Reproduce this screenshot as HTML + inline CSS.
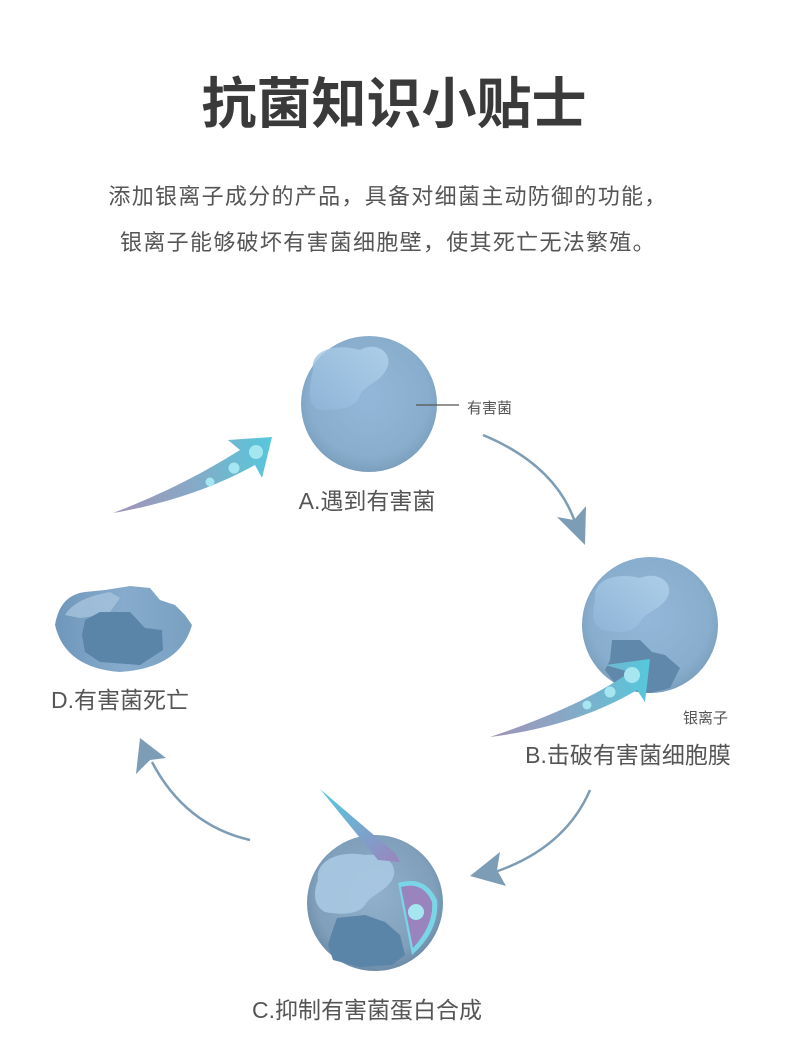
<!DOCTYPE html>
<html><head><meta charset="utf-8"><style>
body{margin:0;background:#fff;width:790px;height:1045px;overflow:hidden;font-family:"Liberation Sans","Noto Sans CJK SC",sans-serif}
</style></head><body>
<svg width="790" height="1045" xmlns="http://www.w3.org/2000/svg" style="font-family:'Liberation Sans','Noto Sans CJK SC',sans-serif">
<defs>
<radialGradient id="ball" cx="0.5" cy="0.45" r="0.55">
<stop offset="0" stop-color="#93b7d8"/><stop offset="0.8" stop-color="#89aecd"/><stop offset="1" stop-color="#7b9fbd"/></radialGradient>
<radialGradient id="ballC" cx="0.5" cy="0.45" r="0.55">
<stop offset="0" stop-color="#90b0cc"/><stop offset="0.8" stop-color="#7f9fbb"/><stop offset="1" stop-color="#6c8ca8"/></radialGradient>
<linearGradient id="hl" x1="0" y1="1" x2="1" y2="0"><stop offset="0" stop-color="#8fb5d8"/><stop offset="1" stop-color="#b4d5ee"/></linearGradient>
<linearGradient id="ar1" x1="0" y1="0" x2="1" y2="0"><stop offset="0" stop-color="#a293b8"/><stop offset="0.5" stop-color="#86a9c6"/><stop offset="1" stop-color="#55c8dc"/></linearGradient>
<linearGradient id="ar2" x1="0" y1="0" x2="1" y2="1"><stop offset="0" stop-color="#52cde0"/><stop offset="1" stop-color="#9a84bd"/></linearGradient>
<linearGradient id="bowl" x1="0" y1="0" x2="1" y2="0"><stop offset="0" stop-color="#6f97bb"/><stop offset="0.5" stop-color="#86abcc"/><stop offset="1" stop-color="#7aa0c1"/></linearGradient>
</defs>

<text x="394" y="123" text-anchor="middle" font-size="55" font-weight="bold" fill="#3a3a3a">抗菌知识小贴士</text>
<text x="388" y="204" text-anchor="middle" font-size="22" letter-spacing="1.3" fill="#555">添加银离子成分的产品，具备对细菌主动防御的功能，</text>
<text x="388" y="250" text-anchor="middle" font-size="22" letter-spacing="1.3" fill="#555">银离子能够破坏有害菌细胞壁，使其死亡无法繁殖。</text>

<!-- A -->
<circle cx="369" cy="404" r="68" fill="url(#ball)"/>
<path d="M313,370 C310,350 335,343 360,350 C378,340 395,355 386,370 C380,382 365,385 360,395 C355,410 335,410 320,410 C305,405 310,385 313,370Z" fill="url(#hl)" opacity="0.8"/>
<line x1="416" y1="405" x2="459" y2="405" stroke="#555" stroke-width="1.2"/>
<text x="467" y="413" font-size="15" fill="#555">有害菌</text>
<text x="367" y="509" text-anchor="middle" font-size="23" fill="#555">A.遇到有害菌</text>

<!-- top-left ion arrow -->
<path d="M113,513 C160,495 200,475 240,450 L228,440 L272,437 L262,478 L255,465 C210,490 160,505 113,513Z" fill="url(#ar1)"/>
<circle cx="256" cy="452" r="7" fill="#a5e6f0"/>
<circle cx="234" cy="468" r="5.5" fill="#a5e6f0"/>
<circle cx="210" cy="482" r="4.5" fill="#a5e6f0"/>

<!-- connectors -->
<g stroke="#7d9cb5" stroke-width="2.5" fill="none">
<path d="M483,435 Q555,465 575,522"/>
<path d="M590,790 Q565,848 495,872"/>
<path d="M250,840 Q185,825 152,762"/>
</g>
<g fill="#7d9cb5">
<path d="M585,545 L557,517 L574,520 L586,506Z"/>
<path d="M470,876 L500,852 L497,870 L506,886Z"/>
<path d="M140,738 L166,758 L150,760 L136,774Z"/>
</g>

<!-- B -->
<circle cx="650" cy="625" r="68" fill="url(#ball)"/>
<path d="M595,600 C592,580 615,572 640,578 C660,570 675,585 667,598 C660,610 645,612 640,622 C632,635 615,632 603,630 C590,625 593,610 595,600Z" fill="url(#hl)" opacity="0.8"/>
<path d="M612,640 L640,640 L652,652 L665,655 L680,668 L670,688 L650,693 L620,690 L605,670 L610,660Z" fill="#5f88aa"/>
<path d="M490,737 C540,720 590,700 630,672 L605,665 L650,659 L645,702 L637,690 C595,715 545,730 490,737Z" fill="url(#ar1)"/>
<circle cx="632" cy="675" r="8" fill="#a5e6f0"/>
<circle cx="610" cy="692" r="5.5" fill="#a5e6f0"/>
<circle cx="587" cy="705" r="4.5" fill="#a5e6f0"/>
<text x="683" y="723" font-size="15" fill="#555">银离子</text>
<text x="628" y="763" text-anchor="middle" font-size="23" fill="#555">B.击破有害菌细胞膜</text>

<!-- C -->
<circle cx="375" cy="903" r="68" fill="url(#ballC)"/>
<path d="M318,880 C315,860 340,850 365,855 C385,852 400,865 392,880 C385,892 370,895 365,905 C358,915 340,915 325,912 C312,905 314,890 318,880Z" fill="#a9c8e2" opacity="0.9"/>
<path d="M337,918 L365,915 L385,922 L400,935 L405,955 L392,965 L360,967 L333,960 L328,945 L332,932Z" fill="#5a84a8"/>
<path d="M398,883 Q425,875 437,900 Q440,930 412,955 Z" fill="#7ad5e6"/>
<path d="M401,887 Q423,881 432,902 Q434,925 413,948 Z" fill="#9a84bd"/>
<circle cx="416" cy="912" r="8" fill="#a5e6f0"/>
<path d="M320,789 L368,830 L395,853 L400,862 L378,860 Z" fill="url(#ar2)"/>
<text x="367" y="1018" text-anchor="middle" font-size="23" fill="#555">C.抑制有害菌蛋白合成</text>

<!-- D -->
<path d="M55,625 Q60,595 85,592 L105,590 L130,586 L150,588 L160,600 L175,605 L185,615 L192,625 Q180,668 120,672 Q65,668 55,625Z" fill="url(#bowl)"/>
<path d="M65,615 Q75,598 110,592 L120,598 L110,612 L95,616 L80,618Z" fill="#a6c3dc" opacity="0.8"/>
<path d="M85,620 L100,612 L130,612 L145,628 L162,630 L163,650 L140,665 L100,662 L85,652 L82,635Z" fill="#5a84a8"/>
<text x="120" y="708" text-anchor="middle" font-size="23" fill="#555">D.有害菌死亡</text>
</svg>
</body></html>
